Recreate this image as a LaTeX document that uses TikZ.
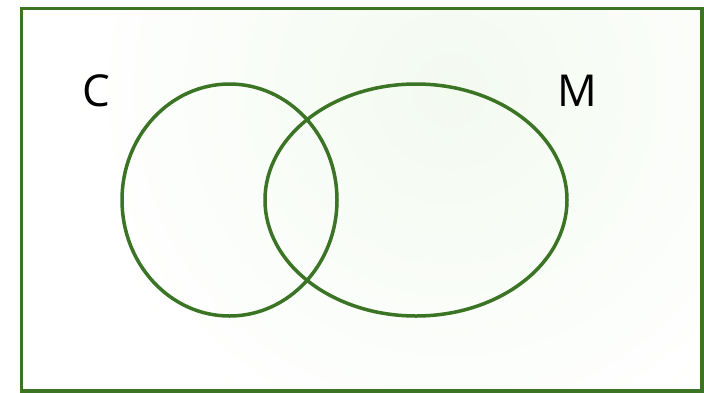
\documentclass[tikz,border=0pt]{standalone}
\usepackage{fontspec}
\setmainfont{Open Sans}
\definecolor{venngreen}{RGB}{58,116,36}
\definecolor{tintgreen}{RGB}{243,250,240}
\begin{document}
\begin{tikzpicture}[x=1pt,y=-1pt,
  setline/.style={draw=venngreen,line width=3.5pt},
  setlabel/.style={font=\fontsize{44}{44}\selectfont,inner sep=0pt,anchor=center}]
\useasboundingbox (0,0) rectangle (704,392);
\begin{scope}
  \clip (21.5,8.5) rectangle (702,391);
  \shade[inner color=tintgreen,outer color=white] (450,90) circle[radius=380];
\end{scope}
\draw[setline] (21.5,8.5) rectangle (702,391);
\draw[setline] (229.5,200) ellipse[x radius=107.5,y radius=116];
\draw[setline] (416,200) ellipse[x radius=151,y radius=116];
\node[setlabel] (c) at (96,91) {C};
\node[setlabel] (m) at (577,91) {M};
\end{tikzpicture}
\end{document}
